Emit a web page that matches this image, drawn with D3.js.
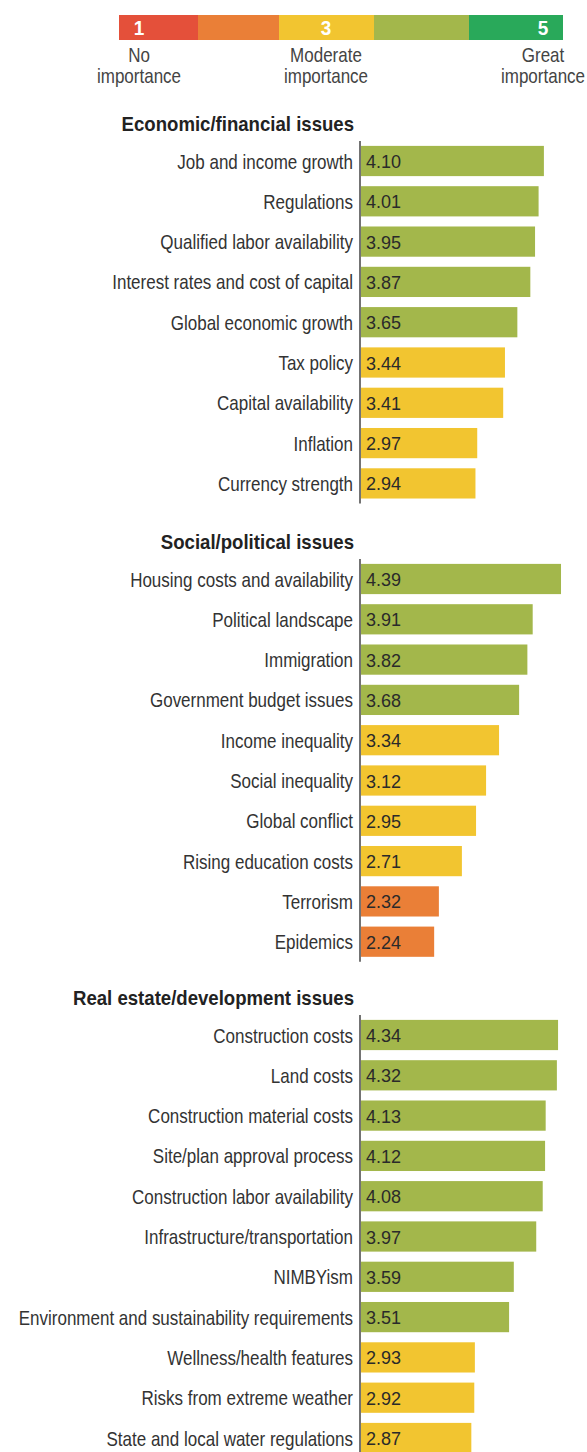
<!DOCTYPE html>
<html>

<head>
  <title>Importance of issues</title>
</head>

<style>
  body,
  html {
    margin: 0;
    padding: 0;
    background: #fff;
  }

  .lbl {
    font-family: "Liberation Sans", Arial, sans-serif;
    font-size: 20px;
    fill: #333;
  }

  .hdr {
    font-family: "Liberation Sans", Arial, sans-serif;
    font-size: 20px;
    font-weight: bold;
    fill: #222;
  }

  .val {
    font-family: "Liberation Sans", Arial, sans-serif;
    font-size: 18px;
    fill: #2a2a2a;
  }
</style>

<body>

  <svg id="svg" width="587" height="1452"></svg>

  <script src="https://d3js.org/d3.v7.min.js"></script>
  <script>

    // data
    const legendNums = ['1', '', '3', '', '5']
    const legendText = [['No', 'importance'], null, ['Moderate', 'importance'], null, ['Great', 'importance']]
    const colors = ['#e4503a', '#ea7f37', '#f2c530', '#a3b74b', '#29a95a']

    const sectionTitles = ['Economic/financial issues', 'Social/political issues', 'Real estate/development issues']

    const econLabels = ['Job and income growth', 'Regulations', 'Qualified labor availability',
      'Interest rates and cost of capital', 'Global economic growth', 'Tax policy',
      'Capital availability', 'Inflation', 'Currency strength']
    const econValues = [4.10, 4.01, 3.95, 3.87, 3.65, 3.44, 3.41, 2.97, 2.94]

    const socialLabels = ['Housing costs and availability', 'Political landscape', 'Immigration',
      'Government budget issues', 'Income inequality', 'Social inequality', 'Global conflict',
      'Rising education costs', 'Terrorism', 'Epidemics']
    const socialValues = [4.39, 3.91, 3.82, 3.68, 3.34, 3.12, 2.95, 2.71, 2.32, 2.24]

    const realLabels = ['Construction costs', 'Land costs', 'Construction material costs',
      'Site/plan approval process', 'Construction labor availability', 'Infrastructure/transportation',
      'NIMBYism', 'Environment and sustainability requirements', 'Wellness/health features',
      'Risks from extreme weather', 'State and local water regulations']
    const realValues = [4.34, 4.32, 4.13, 4.12, 4.08, 3.97, 3.59, 3.51, 2.93, 2.92, 2.87]

    const svg = d3.select('#svg')

    // squeeze text to imitate a condensed face
    function ctext(parent, x, y, cls, anchor, str, sx) {
      return parent.append('g')
        .attr('transform', `translate(${x},${y}) scale(${sx},1)`)
        .append('text')
        .attr('class', cls)
        .attr('text-anchor', anchor)
        .text(str)
    }

    // legend
    const legendEdges = [119, 198, 279, 374, 469, 563]
    const lg = svg.append('g')
    colors.forEach((c, i) => {
      const x0 = legendEdges[i], x1 = legendEdges[i + 1]
      lg.append('rect')
        .attr('x', x0).attr('y', 15)
        .attr('width', x1 - x0).attr('height', 25)
        .attr('fill', c)
    })
    const numX = [139, null, 326, null, 543]
    legendNums.forEach((n, i) => {
      if (!n) return
      ctext(lg, numX[i], 35, 'hdr', 'middle', n, 0.95).style('fill', '#fff')
    })
    legendText.forEach((t, i) => {
      if (!t) return
      t.forEach((line, j) => {
        ctext(lg, numX[i], 62 + j * 21, 'lbl', 'middle', line, 0.85).style('fill', '#444')
      })
    })

    // bars
    const xscale = d3.scaleLinear()
      .domain([1, 5])
      .range([361, 597])

    const colorFor = v => colors[Math.round(v) - 1]

    const axisX = 360
    const step = 40.3
    const sections = [
      { title: sectionTitles[0], labels: econLabels, values: econValues, top: 124 },
      { title: sectionTitles[1], labels: socialLabels, values: socialValues, top: 542 },
      { title: sectionTitles[2], labels: realLabels, values: realValues, top: 998 }
    ]

    sections.forEach(sec => {
      const g = svg.append('g')
      const y0 = sec.top + 37 - step / 2
      const yscale = d3.scaleBand()
        .domain(sec.labels)
        .range([y0, y0 + step * sec.labels.length])
        .paddingInner(0.25)
        .paddingOuter(0.125)

      ctext(g, 354, sec.top + 7, 'hdr', 'end', sec.title, 0.93)

      const data = sec.labels.map((l, i) => ({ label: l, value: sec.values[i] }))

      g.selectAll('rect.bar')
        .data(data)
        .join('rect')
        .attr('class', 'bar')
        .attr('x', xscale(1))
        .attr('y', d => yscale(d.label))
        .attr('width', d => xscale(d.value) - xscale(1))
        .attr('height', yscale.bandwidth())
        .attr('fill', d => colorFor(d.value))

      data.forEach(d => {
        ctext(g, 353, yscale(d.label) + yscale.bandwidth() / 2 + 7.5, 'lbl', 'end', d.label, 0.85)
      })

      g.selectAll('text.val')
        .data(data)
        .join('text')
        .attr('class', 'val')
        .attr('x', 366)
        .attr('y', d => yscale(d.label) + yscale.bandwidth() / 2 + 7)
        .text(d => d.value.toFixed(2))

      const first = yscale(sec.labels[0])
      const last = yscale(sec.labels[sec.labels.length - 1]) + yscale.bandwidth()
      g.append('line')
        .attr('x1', axisX).attr('x2', axisX)
        .attr('y1', first - 5).attr('y2', last + 5)
        .attr('stroke', '#444')
        .attr('stroke-width', 1.5)
    })

  </script>

</body>

</html>
